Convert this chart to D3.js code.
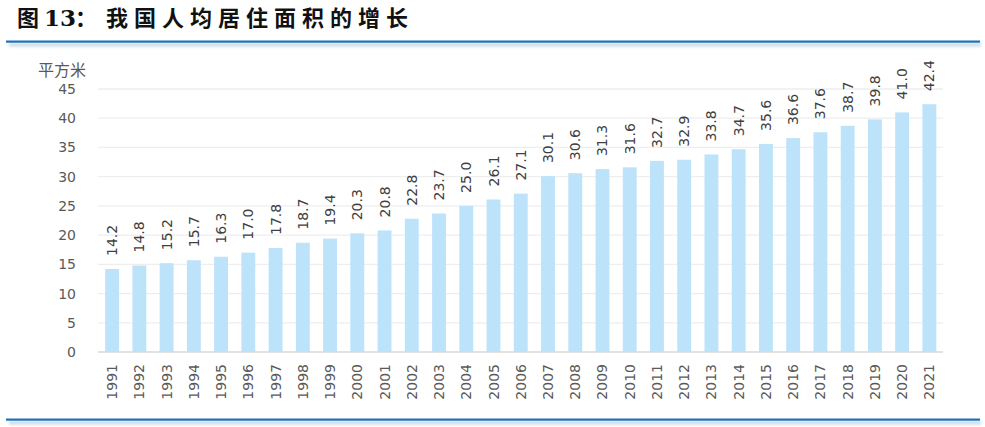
<!DOCTYPE html>
<html><head><meta charset="utf-8">
<script src="https://cdn.jsdelivr.net/npm/d3@7"></script>
<style>body{margin:0;background:#fff}svg{display:block}</style>
</head><body>
<script>
const years = ["1991","1992","1993","1994","1995","1996","1997","1998","1999","2000","2001","2002","2003","2004","2005","2006","2007","2008","2009","2010","2011","2012","2013","2014","2015","2016","2017","2018","2019","2020","2021"];
const values = [14.2,14.8,15.2,15.7,16.3,17.0,17.8,18.7,19.4,20.3,20.8,22.8,23.7,25.0,26.1,27.1,30.1,30.6,31.3,31.6,32.7,32.9,33.8,34.7,35.6,36.6,37.6,38.7,39.8,41.0,42.4];
const yTicks = [0,5,10,15,20,25,30,35,40,45];
const titlePrefix = "图";
const titleNum = "13";
const titleColon = "：";
const titleBody = "我国人均居住面积的增长";
const unit = "平方米";

const W = 985, H = 427;
const svg = d3.select("body").append("svg").attr("width", W).attr("height", H);
const defs = svg.append("defs");
defs.append("filter").attr("id","blur").attr("x","-5%").attr("y","-200%").attr("width","110%").attr("height","500%")
  .append("feGaussianBlur").attr("stdDeviation", 1.6);

// title
const tg = svg.append("g").attr("fill", "#111").attr("font-weight", "bold");
const cjk = "'Noto Sans CJK SC', sans-serif";
tg.append("text").attr("x", 17).attr("y", 26).attr("font-family", cjk).attr("font-size", 22).text(titlePrefix);
tg.append("text").attr("x", 44).attr("y", 26).attr("font-family", "'DejaVu Serif', serif").attr("font-size", 23).text(titleNum);
tg.append("text").attr("x", 75).attr("y", 26).attr("font-family", cjk).attr("font-size", 22).text(titleColon);
const tb = tg.append("text").attr("x", 106).attr("y", 26).attr("font-family", cjk).attr("font-size", 22)
  .text(titleBody);
// spread body chars to span the measured width
const len = tb.node().getComputedTextLength();
const target = 302;
tb.attr("letter-spacing", Math.max(0, (target - len) / (titleBody.length - 1)));

// separator lines with shadow
[41.5, 419.5].forEach(yy => {
  svg.append("rect").attr("x", 9).attr("y", yy + 1.5).attr("width", 972).attr("height", 3.5)
    .attr("fill", "#c9d9e6").attr("filter", "url(#blur)");
  svg.append("rect").attr("x", 6).attr("y", yy - 1).attr("width", 974).attr("height", 2.2)
    .attr("fill", "#1f70b8");
});

const x = d3.scaleBand().domain(years).range([98.5, 943]).paddingInner(0.49).paddingOuter(0.245);
const y = d3.scaleLinear().domain([0, 45]).range([352, 89]);

// gridlines
svg.append("g").selectAll("line").data(yTicks.filter(d => d > 0)).join("line")
  .attr("x1", 98).attr("x2", 943).attr("y1", d => y(d)).attr("y2", d => y(d))
  .attr("stroke", "#eeeeee").attr("stroke-width", 1.3);

// y labels
svg.append("g").selectAll("text").data(yTicks).join("text")
  .attr("x", 76).attr("y", d => y(d)).attr("dy", "0.36em").attr("text-anchor", "end")
  .attr("font-family", "'DejaVu Sans', sans-serif").attr("font-size", 14).attr("fill", "#595959")
  .text(d => d);

svg.append("text").attr("x", 38).attr("y", 76)
  .attr("font-family", cjk).attr("font-size", 16).attr("fill", "#595959")
  .text(unit);

// bars
svg.append("g").selectAll("rect").data(values).join("rect")
  .attr("x", (d, i) => x(years[i])).attr("width", x.bandwidth())
  .attr("y", d => y(d)).attr("height", d => y(0) - y(d))
  .attr("fill", "#bde3fb");

// axis line
svg.append("line").attr("x1", 98).attr("x2", 943).attr("y1", 352).attr("y2", 352)
  .attr("stroke", "#d9d9d9").attr("stroke-width", 1.5);

// value labels
svg.append("g").selectAll("text").data(values).join("text")
  .attr("transform", (d, i) => `translate(${x(years[i]) + x.bandwidth()/2 + 5},${y(d) - 13}) rotate(-90)`)
  .attr("font-family", "'DejaVu Sans', sans-serif").attr("font-size", 14).attr("fill", "#404040")
  .text(d => d.toFixed(1));

// year labels
svg.append("g").selectAll("text").data(years).join("text")
  .attr("transform", d => `translate(${x(d) + x.bandwidth()/2 + 5},364) rotate(-90)`)
  .attr("text-anchor", "end")
  .attr("font-family", "'DejaVu Sans', sans-serif").attr("font-size", 14).attr("fill", "#595959")
  .text(d => d);
</script>
</body></html>
